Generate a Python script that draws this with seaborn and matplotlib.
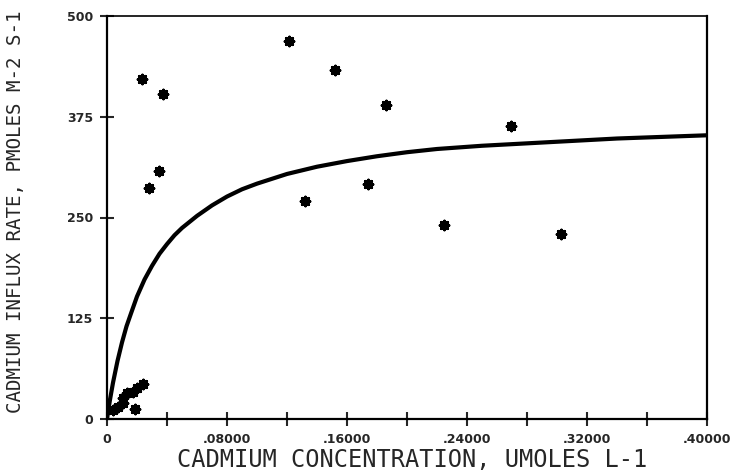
import matplotlib
matplotlib.use("Agg")
import matplotlib.pyplot as plt
import seaborn as sns
import pandas as pd
from matplotlib.ticker import FixedLocator

# observed data points (concentration, influx rate)
obs_x = [0.004, 0.0076, 0.0107, 0.0107, 0.013, 0.0174, 0.0185, 0.020, 0.0237,
         0.0236, 0.028, 0.0347, 0.037,
         0.1215, 0.132, 0.152, 0.174, 0.186, 0.2248, 0.269, 0.3027]
obs_y = [11, 15, 19.5, 26, 32, 34, 13, 38, 43,
         422, 287, 308, 403,
         469, 270, 433, 291, 390, 241, 364, 230]

# fitted curve
fit_x = [0.0, 0.002, 0.004, 0.007, 0.01, 0.013, 0.016, 0.02, 0.025, 0.03,
         0.035, 0.04, 0.045, 0.05, 0.06, 0.07, 0.08, 0.09, 0.10, 0.11,
         0.12, 0.14, 0.16, 0.18, 0.20, 0.22, 0.25, 0.28, 0.31, 0.34,
         0.37, 0.40]
fit_y = [0, 24, 45, 72, 95, 115, 131, 152, 173, 190,
         205, 217, 228, 237, 252, 265, 276, 285, 292, 298,
         304, 313, 320, 326, 331, 335, 339, 342, 345, 348,
         350, 352]

x_ticks = [0, 0.08, 0.16, 0.24, 0.32, 0.40]
x_tick_labels = ["0", ".08000", ".16000", ".24000", ".32000", ".40000"]
x_minor = [0.04, 0.12, 0.20, 0.28, 0.36]
y_ticks = [0, 125, 250, 375, 500]
y_tick_labels = ["0", "125", "250", "375", "500"]

sns.set_style("ticks")
plt.rcParams['font.family'] = ['DejaVu Sans']

fig = plt.figure(figsize=(7.35, 4.71), dpi=100)
ax = fig.add_axes([107/735, 1 - 419/471, 600/735, 403/471])

obs = pd.DataFrame({"x": obs_x, "y": obs_y})
fit = pd.DataFrame({"x": fit_x, "y": fit_y})

sns.lineplot(data=fit, x="x", y="y", ax=ax, color="black", linewidth=3.0,
             sort=False, estimator=None)
sns.scatterplot(data=obs, x="x", y="y", ax=ax, marker=(8, 2, 0), s=36,
                color="black", edgecolor="black", linewidth=2.4, zorder=3)

ax.set_xlim(0, 0.40)
ax.set_ylim(0, 500)
ax.set_xticks(x_ticks)
ax.set_xticklabels(x_tick_labels)
ax.xaxis.set_minor_locator(FixedLocator(x_minor))
ax.set_yticks(y_ticks)
ax.set_yticklabels(y_tick_labels)

for s in ax.spines.values():
    s.set_linewidth(1.6)
    s.set_color("black")
ax.spines["top"].set_linewidth(1.2)
ax.tick_params(axis="both", which="major", direction="inout", length=10,
               width=1.5, labelsize=9, pad=5)
ax.tick_params(axis="x", which="minor", direction="inout", length=10, width=1.5)
for lab in ax.get_xticklabels() + ax.get_yticklabels():
    lab.set_fontweight("bold")

ax.set_xlabel("CADMIUM CONCENTRATION, UMOLES L-1", fontsize=17,
              family="DejaVu Sans Mono")
ax.set_ylabel("CADMIUM INFLUX RATE, PMOLES M-2 S-1", fontsize=13.8,
              family="DejaVu Sans Mono")
ax.xaxis.set_label_coords((412 - 107) / 600, (419 - 448) / 403)
ax.yaxis.set_label_coords((25 - 107) / 600, (419 - 212) / 403)

fig.savefig("out.png", dpi=100)
